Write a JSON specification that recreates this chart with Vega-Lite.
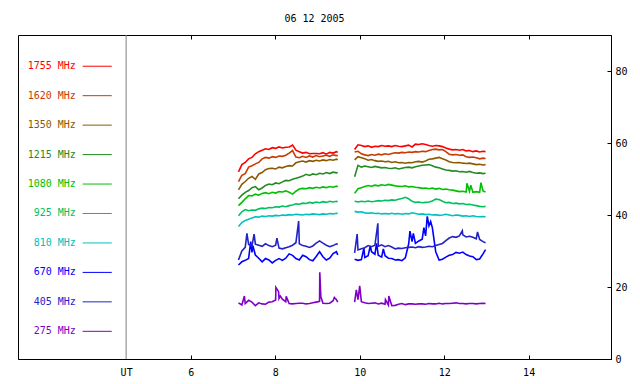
{
  "$schema": "https://vega.github.io/schema/vega-lite/v6.json",
  "width": 593,
  "height": 324,
  "autosize": "none",
  "padding": {"left": 18, "top": 35, "right": 29, "bottom": 25},
  "background": "white",
  "title": {"text": "06 12 2005", "font": "DejaVu Sans Mono", "fontSize": 10, "fontWeight": "normal", "color": "black", "offset": 11, "anchor": "middle"},
  "config": {
    "view": {"stroke": "black", "strokeWidth": 1},
    "axis": {"labelFont": "DejaVu Sans Mono", "labelFontSize": 10, "labelColor": "black", "domainColor": "black", "tickColor": "black", "grid": false, "title": null}
  },
  "resolve": {"scale": {"y": "independent"}, "axis": {"x": "independent", "y": "independent"}},
  "layer": [
    {
      "data": {"values": [{}]},
      "mark": {"type": "rule", "color": "#808080", "strokeWidth": 1},
      "encoding": {
        "x": {"datum": 4.47, "type": "quantitative", "scale": {"domain": [1.91, 15.95], "nice": false, "zero": false},
          "axis": {"orient": "top", "values": [6, 8, 10, 12, 14], "labels": false, "domain": false, "tickSize": -4}}
      }
    },
    {
      "data": {"values": [
        {"t":7.13,"seg":1,"b1755":52.0,"b1620":49.3,"b1350":47.0,"b1215":44.5,"b1080":42.6,"b925":39.8,"b810":36.8,"b670":26.1,"b405":27.5,"b275":15.6},
        {"t":7.21,"seg":1,"b1755":54.0,"b1620":51.0,"b1350":48.5,"b1215":45.5,"b1080":43.5,"b925":40.9,"b810":37.9,"b670":27.0,"b405":30.0,"b275":15.0},
        {"t":7.29,"seg":1,"b1755":54.6,"b1620":51.5,"b1350":49.3,"b1215":46.3,"b1080":44.5,"b925":41.5,"b810":38.5,"b670":27.4,"b405":31.0,"b275":15.4},
        {"t":7.37,"seg":1,"b1755":55.6,"b1620":53.3,"b1350":50.2,"b1215":46.8,"b1080":45.4,"b925":41.2,"b810":38.8,"b670":27.9,"b405":31.8,"b275":16.3},
        {"t":7.45,"seg":1,"b1755":56.0,"b1620":53.7,"b1350":50.7,"b1215":47.6,"b1080":45.3,"b925":41.4,"b810":39.2,"b670":29.6,"b405":31.4,"b275":15.8},
        {"t":7.53,"seg":1,"b1755":57.0,"b1620":54.2,"b1350":49.9,"b1215":47.9,"b1080":45.8,"b925":41.3,"b810":39.5,"b670":28.9,"b405":31.9,"b275":14.8},
        {"t":7.61,"seg":1,"b1755":57.6,"b1620":54.6,"b1350":51.4,"b1215":47.0,"b1080":45.5,"b925":41.7,"b810":39.4,"b670":28.0,"b405":31.6,"b275":15.6},
        {"t":7.69,"seg":1,"b1755":58.0,"b1620":55.6,"b1350":51.8,"b1215":47.5,"b1080":46.0,"b925":41.9,"b810":39.7,"b670":27.0,"b405":31.3,"b275":15.3},
        {"t":7.77,"seg":1,"b1755":58.4,"b1620":56.0,"b1350":52.6,"b1215":48.2,"b1080":46.2,"b925":41.8,"b810":39.6,"b670":27.9,"b405":32.0,"b275":15.2},
        {"t":7.85,"seg":1,"b1755":58.2,"b1620":55.8,"b1350":52.9,"b1215":48.6,"b1080":45.9,"b925":42.1,"b810":39.8,"b670":27.5,"b405":31.5,"b275":15.8},
        {"t":7.93,"seg":1,"b1755":58.7,"b1620":56.2,"b1350":53.0,"b1215":48.4,"b1080":46.3,"b925":42.0,"b810":39.7,"b670":26.7,"b405":31.2,"b275":15.9},
        {"t":8.01,"seg":1,"b1755":58.5,"b1620":56.0,"b1350":52.8,"b1215":48.9,"b1080":46.1,"b925":42.3,"b810":39.9,"b670":27.4,"b405":31.6,"b275":16.4},
        {"t":8.09,"seg":1,"b1755":58.9,"b1620":56.4,"b1350":53.3,"b1215":48.7,"b1080":46.5,"b925":42.2,"b810":39.8,"b670":27.9,"b405":30.8,"b275":16.8},
        {"t":8.17,"seg":1,"b1755":58.6,"b1620":56.3,"b1350":53.1,"b1215":49.2,"b1080":46.4,"b925":42.5,"b810":40.0,"b670":27.4,"b405":30.6,"b275":16.6},
        {"t":8.25,"seg":1,"b1755":58.8,"b1620":56.6,"b1350":53.5,"b1215":49.6,"b1080":46.7,"b925":42.3,"b810":39.9,"b670":28.0,"b405":30.9,"b275":15.9},
        {"t":8.33,"seg":1,"b1755":58.9,"b1620":57.2,"b1350":53.7,"b1215":49.5,"b1080":46.3,"b925":42.6,"b810":40.1,"b670":29.2,"b405":31.2,"b275":15.4},
        {"t":8.41,"seg":1,"b1755":59.4,"b1620":57.9,"b1350":53.6,"b1215":49.9,"b1080":45.8,"b925":42.8,"b810":40.0,"b670":28.8,"b405":31.6,"b275":15.3},
        {"t":8.49,"seg":1,"b1755":58.0,"b1620":56.1,"b1350":54.5,"b1215":50.2,"b1080":46.6,"b925":43.1,"b810":40.2,"b670":27.9,"b405":32.3,"b275":15.4},
        {"t":8.57,"seg":1,"b1755":57.6,"b1620":55.9,"b1350":54.8,"b1215":50.5,"b1080":47.2,"b925":43.0,"b810":40.1,"b670":27.5,"b405":32.0,"b275":15.5},
        {"t":8.65,"seg":1,"b1755":57.2,"b1620":56.3,"b1350":55.0,"b1215":50.8,"b1080":47.4,"b925":43.3,"b810":40.0,"b670":28.8,"b405":31.5,"b275":15.5},
        {"t":8.73,"seg":1,"b1755":57.4,"b1620":56.0,"b1350":54.7,"b1215":51.3,"b1080":47.3,"b925":43.2,"b810":40.2,"b670":28.4,"b405":31.3,"b275":15.3},
        {"t":8.81,"seg":1,"b1755":57.0,"b1620":56.4,"b1350":55.1,"b1215":51.0,"b1080":47.6,"b925":43.5,"b810":40.1,"b670":27.6,"b405":31.0,"b275":15.4},
        {"t":8.89,"seg":1,"b1755":57.1,"b1620":56.1,"b1350":54.9,"b1215":51.4,"b1080":47.4,"b925":43.3,"b810":40.3,"b670":27.3,"b405":31.4,"b275":15.6},
        {"t":8.97,"seg":1,"b1755":57.1,"b1620":56.5,"b1350":55.2,"b1215":51.2,"b1080":47.7,"b925":43.6,"b810":40.2,"b670":28.5,"b405":32.2,"b275":15.8},
        {"t":9.05,"seg":1,"b1755":57.0,"b1620":56.2,"b1350":55.0,"b1215":51.6,"b1080":47.5,"b925":43.4,"b810":40.1,"b670":29.8,"b405":32.8,"b275":16.0},
        {"t":9.13,"seg":1,"b1755":57.3,"b1620":56.4,"b1350":55.3,"b1215":51.4,"b1080":47.8,"b925":43.7,"b810":40.3,"b670":28.4,"b405":32.2,"b275":15.5},
        {"t":9.21,"seg":1,"b1755":56.9,"b1620":56.6,"b1350":55.1,"b1215":51.8,"b1080":47.6,"b925":43.5,"b810":40.2,"b670":27.5,"b405":31.6,"b275":15.4},
        {"t":9.29,"seg":1,"b1755":57.4,"b1620":56.3,"b1350":55.4,"b1215":51.5,"b1080":47.9,"b925":43.8,"b810":40.4,"b670":28.0,"b405":31.2,"b275":15.5},
        {"t":9.37,"seg":1,"b1755":57.2,"b1620":56.7,"b1350":55.2,"b1215":51.9,"b1080":47.7,"b925":43.6,"b810":40.3,"b670":29.3,"b405":31.5,"b275":16.2},
        {"t":9.45,"seg":1,"b1755":57.6,"b1620":56.5,"b1350":55.5,"b1215":51.7,"b1080":48.0,"b925":43.8,"b810":40.5,"b670":29.8,"b405":32.0,"b275":16.5},
        {"t":9.48,"seg":1,"b1755":57.4,"b1620":56.6,"b1350":55.3,"b1215":51.8,"b1080":47.8,"b925":43.7,"b810":40.4,"b670":28.9,"b405":31.8,"b275":15.8},
        {"t":9.88,"seg":2,"b1755":58.2,"b1620":57.5,"b1350":55.3,"b1215":50.6,"b1080":46.0,"b925":43.8,"b810":41.0,"b670":27.7,"b405":29.5,"b275":15.8},
        {"t":9.96,"seg":2,"b1755":59.5,"b1620":57.7,"b1350":56.2,"b1215":53.8,"b1080":47.3,"b925":43.6,"b810":40.8,"b670":27.4,"b405":30.3,"b275":16.5},
        {"t":10.04,"seg":2,"b1755":59.3,"b1620":57.0,"b1350":55.9,"b1215":53.3,"b1080":47.6,"b925":43.8,"b810":40.9,"b670":27.6,"b405":30.6,"b275":15.9},
        {"t":10.12,"seg":2,"b1755":59.0,"b1620":56.7,"b1350":55.6,"b1215":53.6,"b1080":47.9,"b925":43.7,"b810":40.6,"b670":28.2,"b405":30.9,"b275":15.6},
        {"t":10.20,"seg":2,"b1755":59.2,"b1620":56.5,"b1350":55.2,"b1215":53.4,"b1080":48.2,"b925":43.9,"b810":40.5,"b670":28.7,"b405":31.5,"b275":15.4},
        {"t":10.28,"seg":2,"b1755":58.8,"b1620":56.8,"b1350":55.4,"b1215":53.2,"b1080":48.0,"b925":43.7,"b810":40.6,"b670":29.8,"b405":31.2,"b275":15.5},
        {"t":10.36,"seg":2,"b1755":59.1,"b1620":56.6,"b1350":55.1,"b1215":53.5,"b1080":48.3,"b925":43.8,"b810":40.4,"b670":29.1,"b405":31.6,"b275":15.6},
        {"t":10.44,"seg":2,"b1755":59.0,"b1620":56.9,"b1350":54.9,"b1215":53.3,"b1080":48.1,"b925":44.0,"b810":40.5,"b670":28.8,"b405":31.3,"b275":15.3},
        {"t":10.52,"seg":2,"b1755":59.3,"b1620":56.7,"b1350":55.0,"b1215":53.1,"b1080":48.4,"b925":43.9,"b810":40.3,"b670":28.3,"b405":31.7,"b275":15.5},
        {"t":10.60,"seg":2,"b1755":59.1,"b1620":57.0,"b1350":54.8,"b1215":53.2,"b1080":48.2,"b925":44.1,"b810":40.4,"b670":28.7,"b405":31.2,"b275":15.2},
        {"t":10.68,"seg":2,"b1755":59.2,"b1620":56.8,"b1350":54.9,"b1215":53.0,"b1080":48.5,"b925":44.0,"b810":40.3,"b670":28.0,"b405":31.5,"b275":15.0},
        {"t":10.76,"seg":2,"b1755":59.0,"b1620":57.1,"b1350":54.6,"b1215":52.9,"b1080":48.3,"b925":44.2,"b810":40.5,"b670":27.9,"b405":31.1,"b275":14.8},
        {"t":10.84,"seg":2,"b1755":59.3,"b1620":57.3,"b1350":54.8,"b1215":53.1,"b1080":48.1,"b925":44.1,"b810":40.3,"b670":27.5,"b405":30.6,"b275":14.9},
        {"t":10.92,"seg":2,"b1755":59.1,"b1620":57.2,"b1350":54.5,"b1215":52.8,"b1080":48.0,"b925":44.4,"b810":40.4,"b670":27.6,"b405":30.8,"b275":15.2},
        {"t":11.00,"seg":2,"b1755":59.0,"b1620":57.4,"b1350":54.6,"b1215":53.0,"b1080":47.9,"b925":44.6,"b810":40.2,"b670":27.3,"b405":30.7,"b275":15.4},
        {"t":11.08,"seg":2,"b1755":59.2,"b1620":57.3,"b1350":54.4,"b1215":53.2,"b1080":48.1,"b925":44.9,"b810":40.4,"b670":28.1,"b405":30.9,"b275":15.1},
        {"t":11.16,"seg":2,"b1755":59.4,"b1620":57.5,"b1350":54.6,"b1215":53.3,"b1080":47.8,"b925":44.5,"b810":40.3,"b670":32.0,"b405":31.0,"b275":15.3},
        {"t":11.24,"seg":2,"b1755":58.9,"b1620":57.4,"b1350":54.5,"b1215":53.1,"b1080":47.9,"b925":43.8,"b810":40.6,"b670":32.6,"b405":31.1,"b275":15.3},
        {"t":11.32,"seg":2,"b1755":59.7,"b1620":57.6,"b1350":54.8,"b1215":53.4,"b1080":47.7,"b925":43.5,"b810":40.4,"b670":32.1,"b405":30.9,"b275":15.2},
        {"t":11.40,"seg":2,"b1755":59.6,"b1620":57.5,"b1350":54.9,"b1215":53.6,"b1080":47.6,"b925":43.6,"b810":40.2,"b670":32.8,"b405":31.2,"b275":15.3},
        {"t":11.48,"seg":2,"b1755":59.8,"b1620":57.7,"b1350":54.7,"b1215":53.8,"b1080":47.4,"b925":43.4,"b810":40.3,"b670":33.3,"b405":31.0,"b275":15.3},
        {"t":11.56,"seg":2,"b1755":59.6,"b1620":57.6,"b1350":55.0,"b1215":53.9,"b1080":47.5,"b925":43.5,"b810":40.1,"b670":34.2,"b405":31.1,"b275":15.2},
        {"t":11.64,"seg":2,"b1755":59.3,"b1620":57.9,"b1350":55.5,"b1215":54.0,"b1080":47.3,"b925":43.6,"b810":40.2,"b670":37.0,"b405":31.3,"b275":15.4},
        {"t":11.72,"seg":2,"b1755":59.1,"b1620":58.2,"b1350":55.6,"b1215":53.7,"b1080":47.5,"b925":43.9,"b810":40.0,"b670":36.5,"b405":31.2,"b275":15.3},
        {"t":11.80,"seg":2,"b1755":59.3,"b1620":58.3,"b1350":55.8,"b1215":53.3,"b1080":47.2,"b925":44.4,"b810":40.1,"b670":29.8,"b405":31.5,"b275":15.3},
        {"t":11.88,"seg":2,"b1755":59.2,"b1620":58.1,"b1350":56.0,"b1215":53.1,"b1080":47.4,"b925":44.3,"b810":39.9,"b670":27.5,"b405":31.8,"b275":15.5},
        {"t":11.96,"seg":2,"b1755":59.0,"b1620":58.2,"b1350":55.6,"b1215":52.8,"b1080":47.1,"b925":43.8,"b810":40.0,"b670":27.7,"b405":32.1,"b275":15.3},
        {"t":12.04,"seg":2,"b1755":58.6,"b1620":57.6,"b1350":55.3,"b1215":52.5,"b1080":47.2,"b925":43.4,"b810":40.2,"b670":28.3,"b405":32.9,"b275":15.4},
        {"t":12.12,"seg":2,"b1755":58.3,"b1620":56.9,"b1350":54.8,"b1215":52.4,"b1080":47.0,"b925":43.5,"b810":40.0,"b670":28.8,"b405":33.6,"b275":15.4},
        {"t":12.20,"seg":2,"b1755":58.1,"b1620":56.7,"b1350":54.6,"b1215":52.2,"b1080":46.9,"b925":43.2,"b810":39.8,"b670":29.0,"b405":34.0,"b275":15.5},
        {"t":12.28,"seg":2,"b1755":58.2,"b1620":56.8,"b1350":54.5,"b1215":52.3,"b1080":46.7,"b925":43.3,"b810":40.0,"b670":29.6,"b405":33.8,"b275":15.6},
        {"t":12.36,"seg":2,"b1755":58.0,"b1620":56.6,"b1350":54.6,"b1215":52.0,"b1080":46.5,"b925":43.1,"b810":39.9,"b670":29.4,"b405":34.2,"b275":15.4},
        {"t":12.44,"seg":2,"b1755":58.2,"b1620":56.7,"b1350":54.4,"b1215":52.1,"b1080":46.6,"b925":43.2,"b810":39.7,"b670":29.7,"b405":34.5,"b275":15.4},
        {"t":12.52,"seg":2,"b1755":57.8,"b1620":56.2,"b1350":54.3,"b1215":51.9,"b1080":46.4,"b925":42.9,"b810":39.8,"b670":29.0,"b405":33.9,"b275":15.3},
        {"t":12.60,"seg":2,"b1755":57.9,"b1620":56.0,"b1350":54.4,"b1215":52.1,"b1080":46.6,"b925":43.0,"b810":39.6,"b670":28.6,"b405":34.1,"b275":15.4},
        {"t":12.68,"seg":2,"b1755":57.6,"b1620":56.1,"b1350":54.2,"b1215":51.8,"b1080":46.3,"b925":42.8,"b810":39.8,"b670":28.4,"b405":33.8,"b275":15.4},
        {"t":12.76,"seg":2,"b1755":57.8,"b1620":55.9,"b1350":54.0,"b1215":51.6,"b1080":46.5,"b925":42.6,"b810":39.6,"b670":27.6,"b405":33.4,"b275":15.3},
        {"t":12.84,"seg":2,"b1755":57.5,"b1620":55.6,"b1350":54.1,"b1215":51.7,"b1080":46.3,"b925":42.4,"b810":39.5,"b670":27.8,"b405":33.2,"b275":15.4},
        {"t":12.92,"seg":2,"b1755":57.7,"b1620":55.8,"b1350":53.9,"b1215":51.5,"b1080":46.7,"b925":42.3,"b810":39.6,"b670":29.2,"b405":32.6,"b275":15.5},
        {"t":12.98,"seg":2,"b1755":57.6,"b1620":55.7,"b1350":54.0,"b1215":51.6,"b1080":46.4,"b925":42.4,"b810":39.5,"b670":30.4,"b405":32.3,"b275":15.4},
        {"t":7.27,"seg":1,"b275":17.5},
        {"t":7.33,"seg":1,"b405":34.9},
        {"t":7.42,"seg":1,"b670":32.6},
        {"t":7.47,"seg":1,"b670":31.5},
        {"t":7.50,"seg":1,"b405":34.7},
        {"t":8.016,"seg":1,"b275":19.9},
        {"t":8.04,"seg":1,"b405":33.6},
        {"t":8.08,"seg":1,"b275":18.7},
        {"t":8.12,"seg":1,"b275":17.5},
        {"t":8.26,"seg":1,"b275":17.4},
        {"t":8.555,"seg":1,"b405":38.3},
        {"t":9.055,"seg":1,"b275":24.1},
        {"t":9.08,"seg":1,"b275":17.3},
        {"t":9.40,"seg":1,"b275":17.1},
        {"t":9.92,"seg":2,"b275":19.2},
        {"t":9.94,"seg":2,"b405":34.7},
        {"t":10.00,"seg":2,"b275":20.3},
        {"t":10.03,"seg":2,"b275":17.0},
        {"t":10.10,"seg":2,"b670":30.8},
        {"t":10.25,"seg":2,"b670":31.4},
        {"t":10.40,"seg":2,"b670":32.1},
        {"t":10.43,"seg":2,"b405":37.7},
        {"t":10.56,"seg":2,"b670":30.6},
        {"t":10.61,"seg":2,"b275":16.5},
        {"t":10.69,"seg":2,"b275":17.5},
        {"t":11.19,"seg":2,"b670":35.5},
        {"t":11.27,"seg":2,"b670":34.9},
        {"t":11.52,"seg":2,"b670":36.5},
        {"t":11.60,"seg":2,"b670":39.6},
        {"t":11.68,"seg":2,"b670":38.2},
        {"t":12.43,"seg":2,"b405":35.6},
        {"t":12.54,"seg":2,"b1080":48.8},
        {"t":12.63,"seg":2,"b1080":48.3},
        {"t":12.79,"seg":2,"b405":35.3},
        {"t":12.87,"seg":2,"b1080":49.0}
      ]},
      "transform": [
        {"fold": ["b1755","b1620","b1350","b1215","b1080","b925","b810","b670","b405","b275"], "as": ["band","v"]},
        {"filter": "isValid(datum.v)"}
      ],
      "mark": {"type": "line", "strokeWidth": 1.6, "interpolate": "linear"},
      "encoding": {
        "x": {"field": "t", "type": "quantitative", "scale": {"domain": [1.91, 15.95], "nice": false, "zero": false},
          "axis": {"orient": "bottom", "values": [4.47, 6, 8, 10, 12, 14], "labelExpr": "datum.value < 5 ? 'UT' : datum.label", "tickSize": -4, "labelPadding": 12,
            "tickOpacity": {"condition": {"test": "datum.value < 5", "value": 0}, "value": 1}}},
        "y": {"field": "v", "type": "quantitative", "scale": {"domain": [0, 90], "nice": false, "zero": true},
          "axis": {"orient": "right", "values": [0, 20, 40, 60, 80], "tickSize": -4, "labelPadding": 8}},
        "color": {"field": "band", "type": "nominal", "legend": null,
          "scale": {"domain": ["b1755","b1620","b1350","b1215","b1080","b925","b810","b670","b405","b275"],
            "range": ["#ff0000","#c83c00","#8b5a00","#228b22","#00c000","#00c060","#00c0c0","#0000ff","#2222c8","#8000c8"]}},
        "detail": {"field": "seg", "type": "nominal"}
      }
    },
    {
      "data": {"name": "legend", "values": [
        {"band":"b1755","label":"1755 MHz"},{"band":"b1620","label":"1620 MHz"},{"band":"b1350","label":"1350 MHz"},
        {"band":"b1215","label":"1215 MHz"},{"band":"b1080","label":"1080 MHz"},{"band":"b925","label":"925 MHz"},
        {"band":"b810","label":"810 MHz"},{"band":"b670","label":"670 MHz"},{"band":"b405","label":"405 MHz"},{"band":"b275","label":"275 MHz"}
      ]},
      "mark": {"type": "text", "align": "right", "baseline": "middle", "font": "DejaVu Sans Mono", "fontSize": 10},
      "encoding": {
        "x": {"datum": 3.28, "type": "quantitative", "axis": null},
        "y": {"field": "band", "type": "ordinal", "axis": null, "sort": null,
          "scale": {"type": "point", "padding": 1.06, "align": 0.53,
            "domain": ["b1755","b1620","b1350","b1215","b1080","b925","b810","b670","b405","b275"]}},
        "text": {"field": "label"},
        "color": {"field": "band", "type": "nominal", "legend": null}
      }
    },
    {
      "data": {"name": "legend"},
      "mark": {"type": "rule", "strokeWidth": 1},
      "encoding": {
        "x": {"datum": 3.44, "type": "quantitative", "axis": null},
        "x2": {"datum": 4.13},
        "y": {"field": "band", "type": "ordinal", "axis": null,
          "scale": {"type": "point", "padding": 1.06, "align": 0.53,
            "domain": ["b1755","b1620","b1350","b1215","b1080","b925","b810","b670","b405","b275"]}},
        "color": {"field": "band", "type": "nominal", "legend": null}
      }
    }
  ]
}
